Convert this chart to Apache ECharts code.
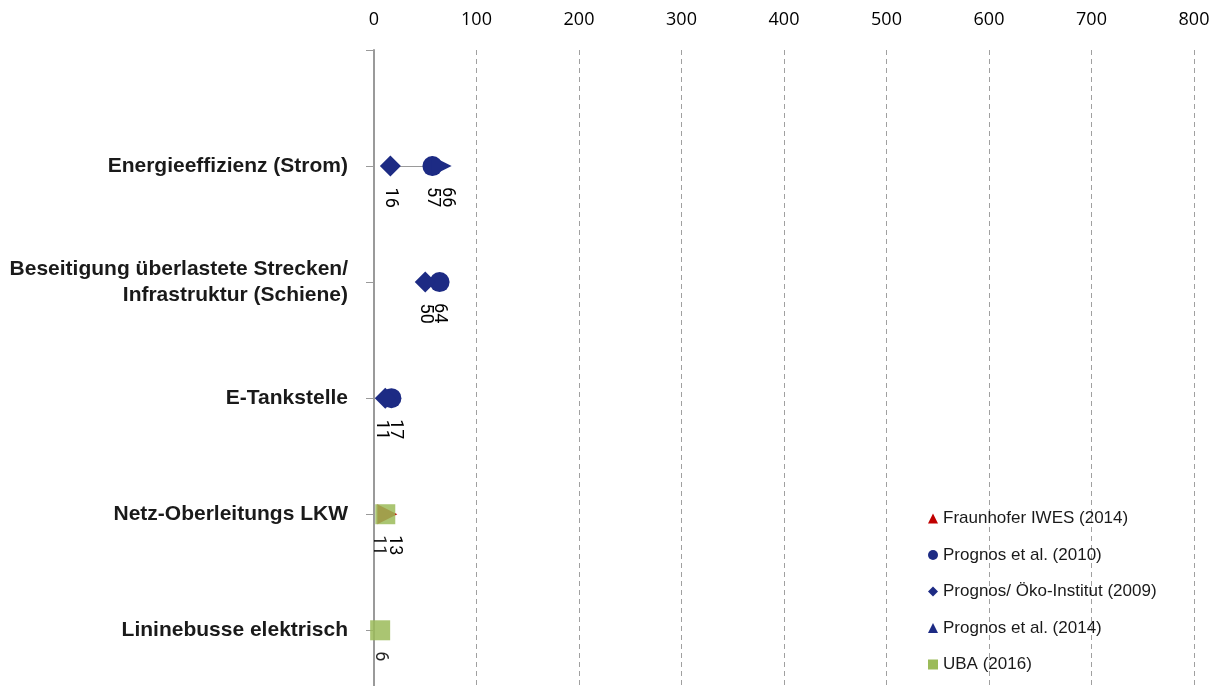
<!DOCTYPE html>
<html>
<head>
<meta charset="utf-8">
<script src="https://cdn.jsdelivr.net/npm/echarts@6/dist/echarts.min.js"></script>
<style>
html,body{margin:0;padding:0;background:#fff;}
#chart{width:1225px;height:686px;}
</style>
</head>
<body>
<div id="chart"></div>
<script>
// ---- data ----
const categories = [
  'Energieeffizienz (Strom)',
  'Beseitigung überlastete Strecken/\nInfrastruktur (Schiene)',
  'E-Tankstelle',
  'Netz-Oberleitungs LKW',
  'Lininebusse elektrisch'
];
const xTicks = [0, 100, 200, 300, 400, 500, 600, 700, 800];
const fraunhofer2014 = [null, null, null, 13, null];
const prognos2010    = [57, 64, 17, null, null];
const prognosOeko2009 = [16, 50, 11, null, null];
const prognos2014    = [66, null, null, null, null];
const uba2016        = [null, null, null, 11, 6];

// ---- styling ----
const BLUE = '#1d2b84', GREEN = '#9bbb59', RED = '#c00000';
const FONT = "'Liberation Sans', Arial, sans-serif";
const seriesDefs = [
  { name: 'Fraunhofer IWES (2014)', values: fraunhofer2014, symbol: 'triangle', size: 20, rotate: -90, color: RED, nudge: {3: 7} },
  { name: 'Prognos et al. (2010)', values: prognos2010, symbol: 'circle', size: 20, rotate: 0, color: BLUE, nudge: {2: 4} },
  { name: 'Prognos/ Öko-Institut (2009)', values: prognosOeko2009, symbol: 'diamond', size: 21, rotate: 0, color: BLUE, nudge: {2: -4} },
  { name: 'Prognos et al. (2014)', values: prognos2014, symbol: 'triangle', size: 20, rotate: -90, color: BLUE, nudge: {0: 6} },
  { name: 'UBA (2016)', values: uba2016, symbol: 'rect', size: 20, rotate: 0, color: GREEN, opacity: 0.85, nudge: {3: -7} }
];

const yOf = i => categories.length - i;

// range lines (min to max per category)
const rangeLines = [];
categories.forEach((c, i) => {
  const vals = seriesDefs.map(s => s.values[i]).filter(v => v != null);
  if (vals.length >= 2) {
    rangeLines.push({ coords: [[Math.min(...vals), yOf(i)], [Math.max(...vals), yOf(i)]] });
  }
});

const series = [{
  type: 'lines',
  coordinateSystem: 'cartesian2d',
  data: rangeLines,
  lineStyle: { color: '#9a9a9a', width: 1.2, opacity: 1 },
  z: 1,
  silent: true
}];

seriesDefs.forEach(s => {
  const data = [];
  s.values.forEach((v, i) => {
    if (v == null) return;
    const item = { value: [v, yOf(i)] };
    const n = s.nudge[i];
    if (n) item.label = { offset: [0, -n] };
    data.push(item);
  });
  series.push({
    name: s.name,
    type: 'scatter',
    symbol: s.symbol,
    symbolSize: s.size,
    symbolRotate: s.rotate,
    itemStyle: { color: s.color, opacity: s.opacity || 1 },
    data: data,
    z: 2,
    label: {
      show: true,
      position: 'bottom',
      distance: 11,
      rotate: -90,
      align: 'left',
      verticalAlign: 'middle',
      formatter: p => p.value[0],
      fontFamily: "'Liberation Sans Narrow', Roboto, sans-serif",
      fontSize: 18,
      color: '#000'
    }
  });
});

const chart = echarts.init(document.getElementById('chart'));
chart.setOption({
  animation: false,
  backgroundColor: '#fff',
  grid: { left: 374, right: 31, top: 50, bottom: 0 },
  xAxis: {
    type: 'value',
    position: 'top',
    min: xTicks[0],
    max: xTicks[xTicks.length - 1],
    interval: 100,
    axisLine: { show: false },
    axisTick: { show: false },
    axisLabel: {
      margin: 21,
      fontFamily: "'Open Sans', sans-serif",
      fontSize: 18,
      color: '#000'
    },
    splitLine: { show: true, lineStyle: { color: '#a0a0a0', type: [5, 4], width: 1 } }
  },
  yAxis: {
    type: 'value',
    min: 0.52,
    max: 6,
    axisLine: { show: true, lineStyle: { color: '#9a9a9a', width: 2 } },
    axisTick: { show: true, length: 8, customValues: [1, 2, 3, 4, 5, 6], lineStyle: { color: '#9a9a9a', width: 1 } },
    splitLine: { show: false },
    axisLabel: {
      customValues: [1, 2, 3, 4, 5],
      margin: 26,
      formatter: v => categories[categories.length - v] || '',
      fontFamily: FONT,
      fontWeight: 'bold',
      fontSize: 21,
      lineHeight: 26,
      color: '#1a1a1a',
      align: 'right'
    }
  },
  legend: {
    orient: 'vertical',
    left: 923,
    top: 505,
    itemWidth: 10,
    itemHeight: 10,
    itemGap: 19.5,
    symbolRotate: 0,
    textStyle: { fontFamily: FONT, fontSize: 17, color: '#1a1a1a' },
    data: seriesDefs.map(s => ({ name: s.name, icon: s.symbol, itemStyle: { opacity: 1 } }))
  },
  series: series
});
</script>
</body>
</html>
